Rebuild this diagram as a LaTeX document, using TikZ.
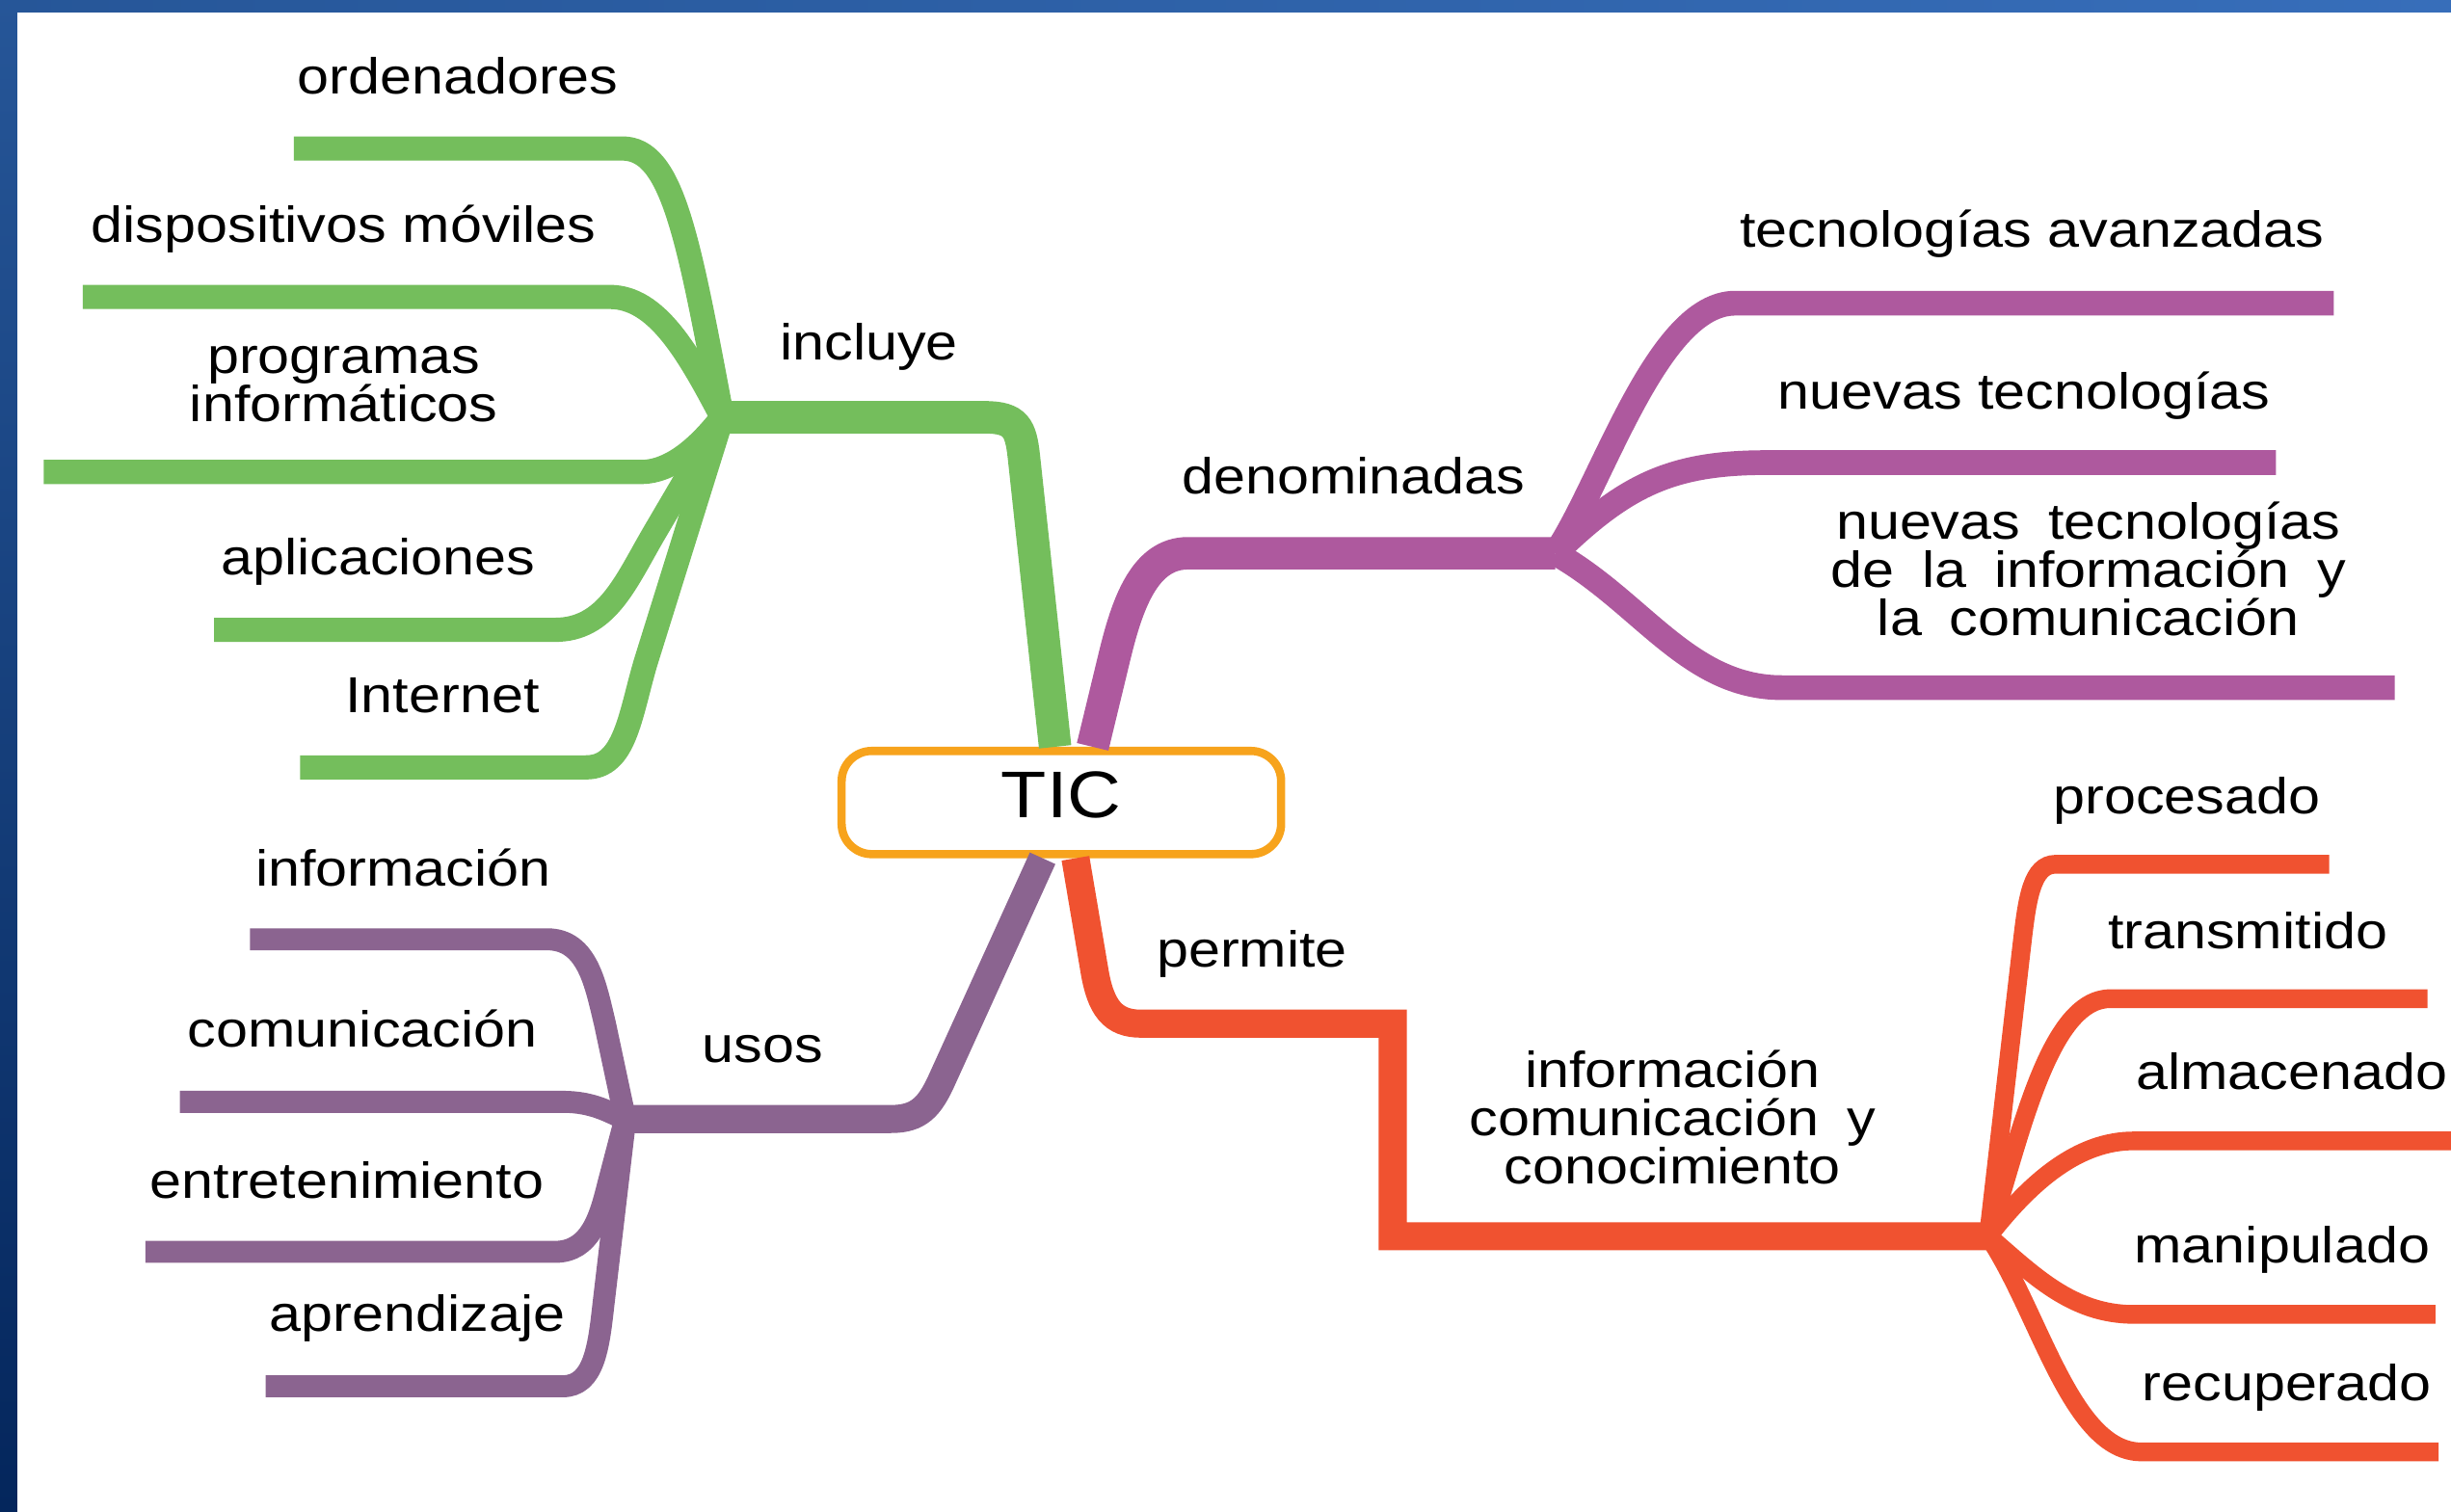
\documentclass[tikz,border=0pt]{standalone}
\usepackage{fontspec}
\setmainfont{Liberation Sans}[FakeStretch=1.13]
\usepackage{tikz}
\usetikzlibrary{positioning}

\definecolor{incgreen}{RGB}{116,190,92}
\definecolor{denpink}{RGB}{174,89,158}
\definecolor{usopurple}{RGB}{139,100,144}
\definecolor{perred}{RGB}{240,82,48}
\definecolor{ticorange}{RGB}{247,163,28}
\definecolor{bluetop}{RGB}{38,86,152}
\definecolor{blueright}{RGB}{55,110,186}
\definecolor{bluebottom}{RGB}{4,38,92}

\newcommand{\labfont}{\fontsize{9.2}{8.8}\selectfont\setlength{\lineskiplimit}{-20pt}}

\tikzset{
  lab/.style={font=\labfont, align=center, inner sep=0pt},
  widesp/.style={execute at begin node={\setlength{\spaceskip}{0.55em}}},
  ticbox/.style={draw=ticorange, line width=1.5pt, fill=white, rounded corners=5.5pt,
    minimum width=2.81cm, minimum height=0.66cm, inner sep=0pt, text depth=0.1cm,
    font=\fontsize{12}{14}\selectfont},
  incl/.style={incgreen, line width=4.4pt},
  deno/.style={denpink, line width=4.5pt},
  usos/.style={usopurple, line width=4pt},
  perm/.style={perred, line width=3.4pt},
  trunk/.style={line width=5.9pt},
}

\begin{document}
\begin{tikzpicture}[x=0.01cm, y=-0.01cm]
  \useasboundingbox (0,0) rectangle (1568,967);
  \fill[white] (0,0) rectangle (1568,967);
  % frame
  \fill[left color=bluetop, right color=blueright] (0,0) rectangle (1568,8);
  \fill[top color=bluetop, bottom color=bluebottom] (0,0) rectangle (11,967);

  \node[ticbox] (tic) at (679,513.5) {TIC};

  % incluye
  \coordinate (inc) at (462,267);
  \draw[incl, trunk] ([xshift=-0.04cm]tic.north) -- (655,292)
    .. controls (653,274) and (650,267) .. (630,267) -- (inc);
  \draw[incl] (inc) .. controls (440,150) and (430,95) .. (398,95) -- (188,95) coordinate (ord);
  \draw[incl] (inc) .. controls (440,225) and (420,190) .. (390,190) -- (53,190) coordinate (dis);
  \draw[incl] (inc) .. controls (448,285) and (430,302) .. (410,302) -- (28,302) coordinate (pro);
  \draw[incl] (inc) -- (418,342) .. controls (400,373) and (388,403) .. (355,403) -- (137,403) coordinate (apl);
  \draw[incl] (inc) -- (413,424) .. controls (403,458) and (400,491) .. (375,491) -- (192,491) coordinate (int);

  % denominadas
  \coordinate (den) at (995,354);
  \draw[deno, trunk] ([xshift=0.2cm]tic.north) -- (713,420)
    .. controls (721,387) and (732,354) .. (760,354) -- (den);
  \draw[deno] (den) .. controls (1025,310) and (1060,194) .. (1110,194) -- (1493,194) coordinate (tav);
  \draw[deno] (den) .. controls (1040,310) and (1070,296) .. (1130,296) -- (1456,296) coordinate (ntec);
  \draw[deno] (den) .. controls (1050,385) and (1080,440) .. (1140,440) -- (1532,440) coordinate (ntic);

  % usos
  \coordinate (uso) at (400,716);
  \draw[usos, line width=5.1pt] ([xshift=-0.12cm]tic.south) -- (603,690)
    .. controls (595,708) and (588,716) .. (570,716) -- (uso);
  \draw[usos] (uso) -- (387,655) .. controls (381,630) and (376,601) .. (350,601) -- (160,601) coordinate (inf);
  \draw[usos] (uso) .. controls (390,712) and (380,705) .. (360,705) -- (115,705) coordinate (com);
  \draw[usos] (uso) -- (389,758) .. controls (384,778) and (378,801) .. (355,801) -- (93,801) coordinate (ent);
  \draw[usos] (uso) -- (386,835) .. controls (383,862) and (380,887) .. (360,887) -- (170,887) coordinate (apr);

  % permite
  \coordinate (per) at (1272,791);
  \draw[perm, line width=5.1pt] ([xshift=0.09cm]tic.south) -- (700,620)
    .. controls (704,645) and (712,655) .. (730,655) -- (891,655) -- (891,791) -- (per);
  \draw[perm] (per) -- (1294,600) .. controls (1297,575) and (1300,553) .. (1315,553) -- (1490,553) coordinate (proc);
  \draw[perm] (per) .. controls (1292,730) and (1310,639) .. (1350,639) -- (1553,639) coordinate (tra);
  \draw[perm] (per) .. controls (1300,755) and (1330,730) .. (1365,730) -- (1568,730) coordinate (alm);
  \draw[perm] (per) .. controls (1300,815) and (1325,841) .. (1365,841) -- (1558,841) coordinate (man);
  \draw[perm] (per) .. controls (1305,840) and (1325,929) .. (1370,929) -- (1560,929) coordinate (rec);

  % labels
  \node[lab, anchor=base] (l-ord) at (293,60) {ordenadores};
  \node[lab, anchor=base] (l-dis) at (220,155) {dispositivos móviles};
  \node[lab] (l-pro) at (220,246) {programas\\informáticos};
  \node[lab, anchor=base] (l-apl) at (242,368) {aplicaciones};
  \node[lab, anchor=base] (l-int) at (283,456) {Internet};
  \node[lab, anchor=base] (l-inc) at (556,230) {incluye};

  \node[lab, anchor=base] (l-tav) at (1300,158) {tecnologías avanzadas};
  \node[lab, anchor=base] (l-ntec) at (1295,262) {nuevas tecnologías};
  \node[lab, widesp] (l-ntic) at (1336,364) {nuevas tecnologías\\de la información y\\la comunicación};
  \node[lab, anchor=base] (l-den) at (866,316) {denominadas};

  \node[lab, anchor=base] (l-inf) at (258,567) {información};
  \node[lab, anchor=base] (l-com) at (232,670) {comunicación};
  \node[lab, anchor=base] (l-ent) at (222,767) {entretenimiento};
  \node[lab, anchor=base] (l-apr) at (267,852) {aprendizaje};
  \node[lab, anchor=base] (l-uso) at (488,680) {usos};

  \node[lab, anchor=base] (l-per) at (801,619) {permite};
  \node[lab, widesp] (l-icc) at (1070,715) {información\\comunicación y\\conocimiento};
  \node[lab, anchor=base] (l-proc) at (1399,521) {procesado};
  \node[lab, anchor=base] (l-tra) at (1438,607) {transmitido};
  \node[lab, anchor=base] (l-alm) at (1466,697) {almacenado};
  \node[lab, anchor=base] (l-man) at (1460,808) {manipulado};
  \node[lab, anchor=base] (l-rec) at (1463,896) {recuperado};
\end{tikzpicture}
\end{document}
